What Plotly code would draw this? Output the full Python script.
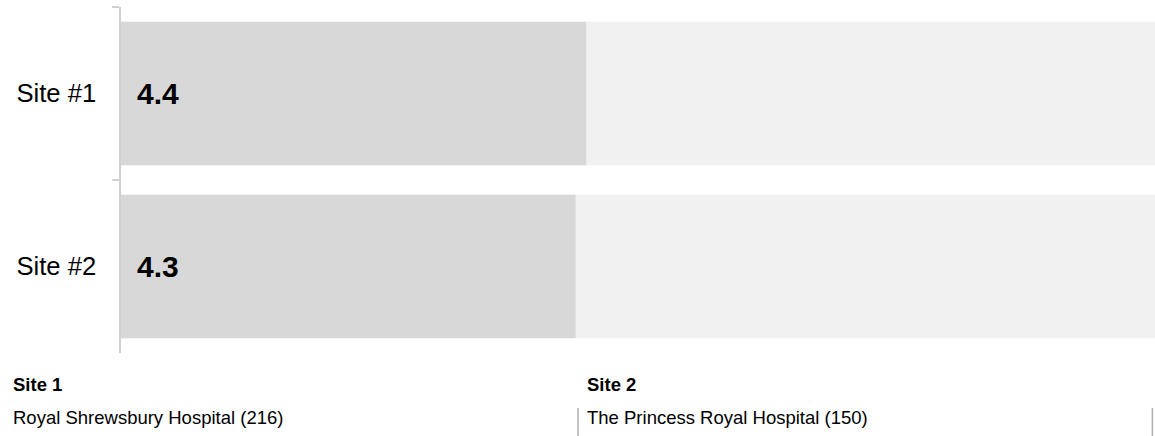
import plotly.graph_objects as go

# scores per site
sites = ['Site #1', 'Site #2']
scores = [4.4, 4.3]
max_score = [10, 10]
score_labels = ['4.4', '4.3']

# footer labels
footer_titles = ['Site 1', 'Site 2']
footer_names = ['Royal Shrewsbury Hospital (216)', 'The Princess Royal Hospital (150)']
footer_x = [-0.1063, 0.4488]
separator_x = [0.442, 0.9975]

FONT = 'Arial, Liberation Sans, sans-serif'

fig = go.Figure()

# grey track behind the score bars
fig.add_trace(go.Bar(
    y=sites, x=max_score, orientation='h',
    marker=dict(color='#f1f1f1', line=dict(width=0)),
    hoverinfo='skip', showlegend=False
))

fig.add_trace(go.Bar(
    y=sites, x=scores, orientation='h',
    marker=dict(color='#d8d8d8', line=dict(width=0)),
    showlegend=False
))

# score text inside the bars
for site, lbl in zip(sites, score_labels):
    fig.add_annotation(
        x=0, y=site, xref='x', yref='y', text=lbl, showarrow=False,
        xanchor='left', xshift=14,
        font=dict(family=FONT, size=30, color='black', weight='bold')
    )

# footer: titles, hospital names and separators
for title, name, fx, sx in zip(footer_titles, footer_names, footer_x, separator_x):
    fig.add_annotation(
        x=fx, y=-0.09, xref='paper', yref='paper', text='<b>' + title + '</b>',
        showarrow=False, xanchor='left', yanchor='middle',
        font=dict(family=FONT, size=18.5, color='black')
    )
    fig.add_annotation(
        x=fx, y=-0.186, xref='paper', yref='paper', text=name,
        showarrow=False, xanchor='left', yanchor='middle',
        font=dict(family=FONT, size=18.5, color='black')
    )
    fig.add_shape(
        type='line', xref='paper', yref='paper',
        x0=sx, x1=sx, y0=-0.159, y1=-0.245,
        line=dict(color='#b0b0b0', width=1.5)
    )

fig.update_layout(
    width=1155, height=436,
    margin=dict(l=121, r=0, t=7, b=83),
    barmode='overlay', bargap=0.17,
    plot_bgcolor='white', paper_bgcolor='white',
    font=dict(family=FONT, color='black'),
    xaxis=dict(range=[0, 9.78], visible=False, fixedrange=True),
    yaxis=dict(
        autorange='reversed', tickson='boundaries',
        showline=True, linecolor='#d0d0d0', linewidth=1.5,
        ticks='outside', ticklen=7, tickcolor='#d0d0d0', tickwidth=1.5,
        ticklabelstandoff=18, showgrid=False, zeroline=False,
        tickfont=dict(family=FONT, size=25.6, color='black'),
        fixedrange=True
    ),
    hovermode=False
)

# drop the page's default body margin so the figure sits at the corner
fig.write_html('out.html', config={'displayModeBar': False},
               post_script="document.body.style.margin='0';")
